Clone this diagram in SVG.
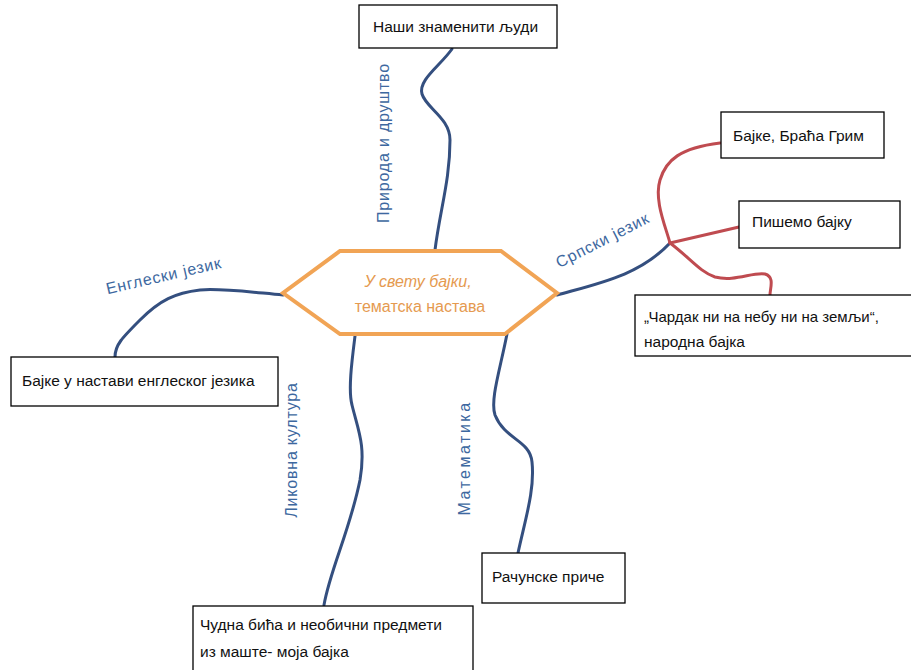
<svg xmlns="http://www.w3.org/2000/svg" width="911" height="670" viewBox="0 0 911 670">
<style>
.box{fill:#fff;stroke:#000;stroke-width:1.3}
.t{font-family:"Liberation Sans",Arial,sans-serif;font-size:15.5px;fill:#111}
.lbl{font-family:"Liberation Sans",Arial,sans-serif;font-size:16px;fill:#3d68a0;letter-spacing:0.8px}
.b{fill:none;stroke:#344f7f;stroke-width:3;stroke-linecap:round}
.r{fill:none;stroke:#bf4b50;stroke-width:3;stroke-linecap:round}
.ct{font-family:"Liberation Sans",Arial,sans-serif;font-size:16px;fill:#e59a50;text-anchor:middle}
</style>
<rect width="911" height="670" fill="#fff"/>
<g id="connectors">
<path class="b" d="M452,49 C440,66 418,80 422,94 C426,108 450,118 450,140 C450,180 440,210 435,250"/>
<path class="b" d="M283,295 C250,292 220,288 200,290 C175,293 160,300 140,320 C122,338 115,345 115,357"/>
<path class="b" d="M557,295 C600,283 640,275 670,243"/>
<path class="b" d="M355,336 C352,360 348,390 352,405 C358,430 366,445 360,480 C350,530 330,570 324,605"/>
<path class="b" d="M507,334 C500,370 490,400 495,415 C505,440 530,440 532,462 C535,490 525,520 518,553"/>
<path class="r" d="M670,243 C665,225 654,200 660,180 C666,160 680,148 720,143"/>
<path class="r" d="M670,243 L739,227"/>
<path class="r" d="M670,243 C690,258 700,272 715,277 C735,282 752,272 765,274 C775,277 770,288 770,295"/>
</g>
<g id="center">
<polygon points="340,251 501,251 557,293 505,334 340,334 283,293" fill="#fff" stroke="#f1a455" stroke-width="4" stroke-linejoin="miter"/>
<text class="ct" x="418" y="287" font-style="italic">У свету бајки,</text>
<text class="ct" x="420" y="312">тематска настава</text>
</g>
<g id="n-priroda">
<rect class="box" x="359" y="5" width="198" height="43"/>
<text class="t" x="373" y="32">Наши знаменити људи</text>
</g>
<g id="n-grim">
<rect class="box" x="721" y="112" width="163" height="46"/>
<text class="t" x="733" y="141">Бајке, Браћа Грим</text>
</g>
<g id="n-pisemo">
<rect class="box" x="739" y="201" width="161" height="47"/>
<text class="t" x="752" y="227">Пишемо бајку</text>
</g>
<g id="n-cardak">
<rect class="box" x="635" y="295" width="280" height="61"/>
<text class="t" x="644" y="322" font-size="15px" style="font-size:15px">„Чардак ни на небу ни на земљи“,</text>
<text class="t" x="644" y="347">народна бајка</text>
</g>
<g id="n-engleski">
<rect class="box" x="11" y="357" width="267" height="49"/>
<text class="t" x="22" y="386">Бајке у настави енглеског језика</text>
</g>
<g id="n-likovna">
<rect class="box" x="193" y="606" width="280" height="66"/>
<text class="t" x="200" y="630">Чудна бића и необични предмети</text>
<text class="t" x="200" y="657">из маште- моја бајка</text>
</g>
<g id="n-matematika">
<rect class="box" x="482" y="553" width="143" height="50"/>
<text class="t" x="492" y="582">Рачунске приче</text>
</g>
<g id="labels">
<text class="lbl" transform="translate(389,143) rotate(-90)" text-anchor="middle">Природа и друштво</text>
<text class="lbl" transform="translate(165,281) rotate(-13)" text-anchor="middle">Енглески језик</text>
<text class="lbl" transform="translate(605,245) rotate(-27)" text-anchor="middle">Српски језик</text>
<text class="lbl" transform="translate(297,450) rotate(-90)" text-anchor="middle">Ликовна култура</text>
<text class="lbl" transform="translate(470,458) rotate(-90)" text-anchor="middle" style="letter-spacing:2.5px">Математика</text>
</g>
</svg>
